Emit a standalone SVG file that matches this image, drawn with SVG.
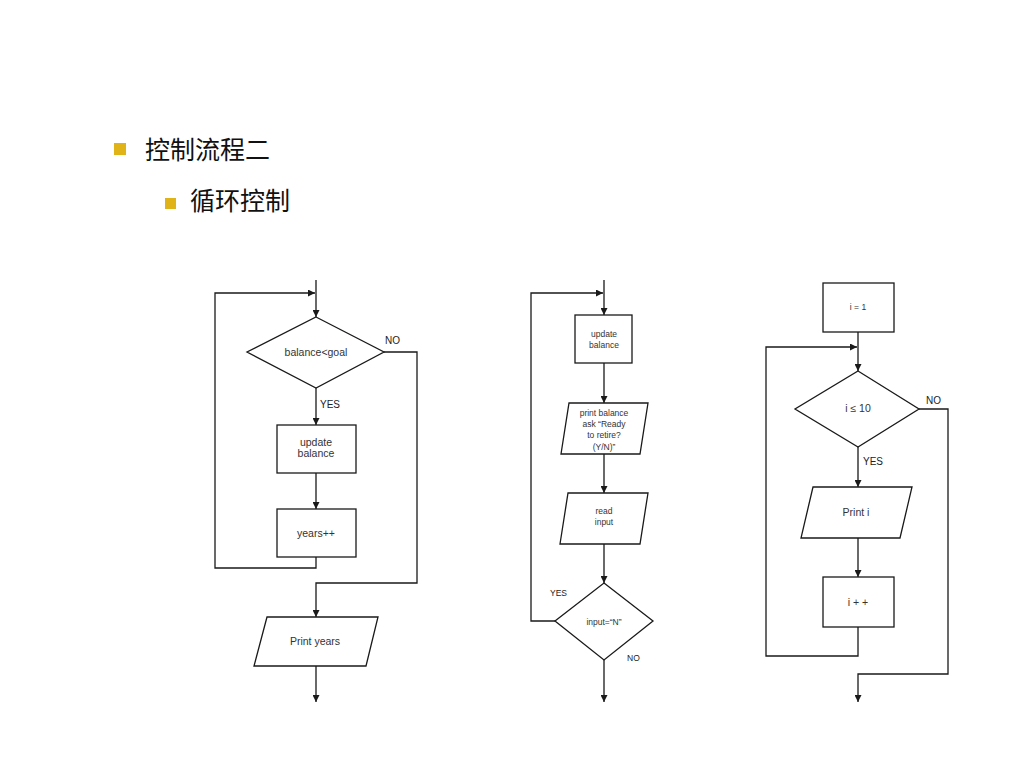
<svg xmlns="http://www.w3.org/2000/svg" width="1024" height="768" viewBox="0 0 1024 768">
<defs>
<marker id="ah" viewBox="0 0 10 10" refX="10" refY="5" markerWidth="7" markerHeight="7" markerUnits="userSpaceOnUse" orient="auto">
<path d="M0,0 L10,5 L0,10 z" fill="#1a1a1a"/>
</marker>
<style>
.sh{fill:#fff;stroke:#1a1a1a;stroke-width:1.3}
.ar{fill:none;stroke:#1a1a1a;stroke-width:1.3;marker-end:url(#ah)}
.t{font-family:"Liberation Sans",Arial,sans-serif;font-size:10.5px;fill:#333;text-anchor:middle}
.lb{font-family:"Liberation Sans",Arial,sans-serif;font-size:10px;fill:#222}
.t.s,.lb.s{font-size:8.5px}
.h{font-family:"Noto Sans CJK SC","Liberation Sans",sans-serif;font-size:25px;fill:#111}
.b{fill:#E0B418}
</style>
</defs>
<rect width="1024" height="768" fill="#fff"/>
<g id="title">
<rect class="b" x="114" y="143" width="12" height="12"/>
<text class="h" x="145" y="159">控制流程二</text>
<rect class="b" x="165" y="198" width="11" height="11"/>
<text class="h" x="190" y="210">循环控制</text>
</g>

<g id="connectors">
<line class="ar" x1="316" y1="280" x2="316" y2="317"/>
<polyline class="ar" points="316,557 316,568 215,568 215,293 315,293"/>
<line class="ar" x1="316" y1="388" x2="316" y2="425"/>
<line class="ar" x1="316" y1="473" x2="316" y2="509"/>
<polyline class="ar" points="384,352 417,352 417,583 316,583 316,617"/>
<line class="ar" x1="316" y1="666" x2="316" y2="702"/>
<line class="ar" x1="604" y1="280" x2="604" y2="315"/>
<polyline class="ar" points="555,621 531,621 531,293 603,293"/>
<line class="ar" x1="604" y1="363" x2="604" y2="403"/>
<line class="ar" x1="604" y1="454" x2="604" y2="493"/>
<line class="ar" x1="604" y1="544" x2="604" y2="583"/>
<line class="ar" x1="604" y1="660" x2="604" y2="702"/>
<line class="ar" x1="858" y1="332" x2="858" y2="371"/>
<polyline class="ar" points="858,627 858,656 766,656 766,347 857,347"/>
<line class="ar" x1="858" y1="447" x2="858" y2="487"/>
<line class="ar" x1="858" y1="538" x2="858" y2="577"/>
<polyline class="ar" points="919,409 948,409 948,674 858,674 858,702"/>
</g>

<g id="d1-cond">
<polygon class="sh" points="316,317 384,352 316,388 247,352"/>
<text class="t" x="316" y="356">balance&lt;goal</text>
</g>
<g id="d1-update">
<rect class="sh" x="277" y="425" width="79" height="48"/>
<text class="t" x="316" y="446">update</text>
<text class="t" x="316" y="457">balance</text>
</g>
<g id="d1-years">
<rect class="sh" x="277" y="509" width="79" height="48"/>
<text class="t" x="316" y="537">years++</text>
</g>
<g id="d1-print">
<polygon class="sh" points="267,617 378,617 366,666 254,666"/>
<text class="t" x="315" y="645">Print years</text>
</g>
<g id="d1-labels">
<text class="lb" x="385" y="344">NO</text>
<text class="lb" x="320" y="408">YES</text>
</g>

<g id="d2-update">
<rect class="sh" x="575" y="315" width="57" height="48"/>
<text class="t s" x="604" y="337">update</text>
<text class="t s" x="604" y="348">balance</text>
</g>
<g id="d2-print">
<polygon class="sh" points="569,403 648,403 640,454 561,454"/>
<text class="t s" x="604" y="416">print balance</text>
<text class="t s" x="604" y="427">ask “Ready</text>
<text class="t s" x="604" y="438">to retire?</text>
<text class="t s" x="604" y="450">(Y/N)”</text>
</g>
<g id="d2-read">
<polygon class="sh" points="568,493 648,493 640,544 560,544"/>
<text class="t s" x="604" y="514">read</text>
<text class="t s" x="604" y="525">input</text>
</g>
<g id="d2-cond">
<polygon class="sh" points="604,583 653,621 604,660 555,621"/>
<text class="t s" x="604" y="625">input=“N”</text>
</g>
<g id="d2-labels">
<text class="lb s" x="550" y="596">YES</text>
<text class="lb s" x="627" y="661">NO</text>
</g>

<g id="d3-init">
<rect class="sh" x="823" y="283" width="71" height="49"/>
<text class="t s" x="858" y="310">i = 1</text>
</g>
<g id="d3-cond">
<polygon class="sh" points="858,371 919,409 858,447 795,409"/>
<text class="t" x="858" y="412">i ≤ 10</text>
</g>
<g id="d3-print">
<polygon class="sh" points="813,487 912,487 900,538 801,538"/>
<text class="t" x="856" y="516">Print i</text>
</g>
<g id="d3-inc">
<rect class="sh" x="823" y="577" width="71" height="50"/>
<text class="t" x="858" y="606">i + +</text>
</g>
<g id="d3-labels">
<text class="lb" x="926" y="404">NO</text>
<text class="lb" x="863" y="465">YES</text>
</g>
</svg>
